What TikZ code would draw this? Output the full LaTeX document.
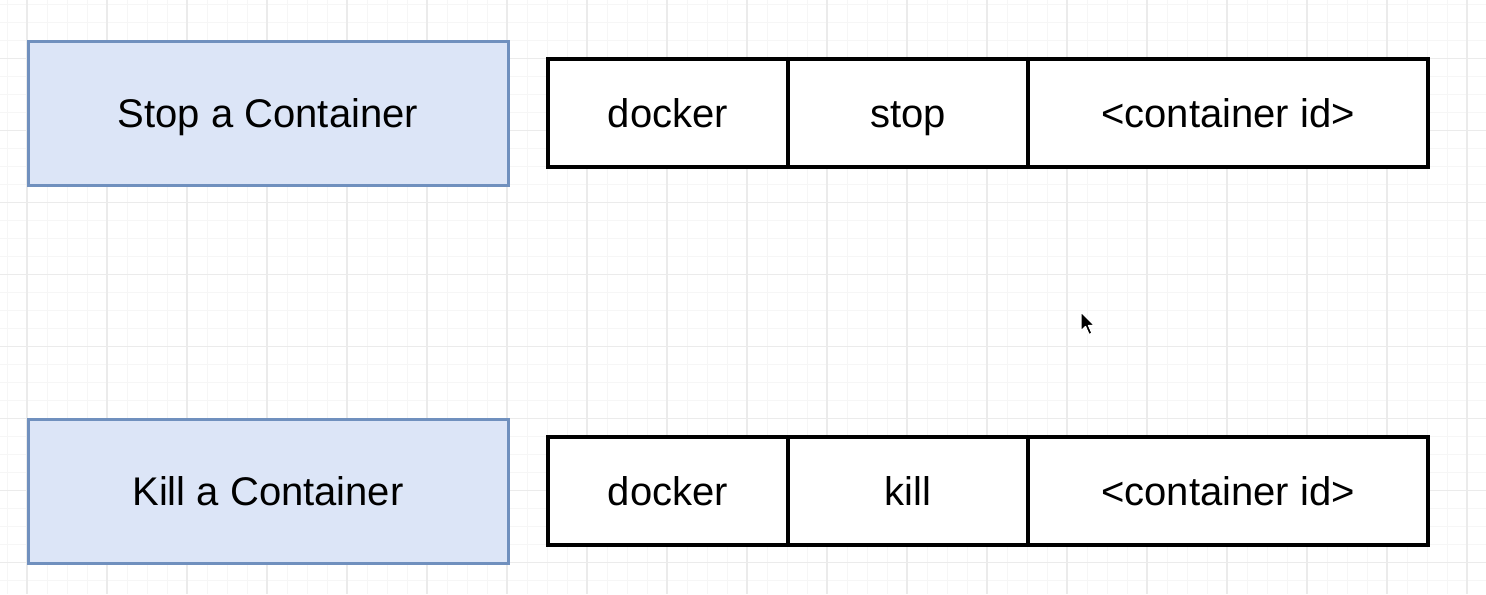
\documentclass[tikz,border=0pt]{standalone}
\usepackage{fontspec}
\setmainfont{Liberation Sans}
\definecolor{gridminor}{HTML}{F6F6F6}
\definecolor{gridmajor}{HTML}{EBEBEB}
\definecolor{bluefill}{HTML}{DCE5F7}
\definecolor{bluedraw}{HTML}{7090BE}
\tikzset{
  minorline/.style={draw=gridminor, line width=0.5pt},
  majorline/.style={draw=gridmajor, line width=0.7pt},
  labeltext/.style={font=\fontsize{20}{24}\selectfont, text height=16pt, text depth=2pt},
  titlebox/.style={labeltext, draw=bluedraw, fill=bluefill, line width=1.5pt, minimum width=240pt, minimum height=72pt, inner sep=0pt},
  cell/.style={labeltext, draw=black, fill=white, line width=2pt, minimum width=120pt, minimum height=54pt, inner sep=0pt},
  widecell/.style={cell, minimum width=200pt},
  cursor/.style={fill=black, draw=white, line width=0.6pt, line join=round}
}
\begin{document}
\begin{tikzpicture}[x=0.5pt, y=-0.5pt]
\fill[white] (0,0) rectangle (1486,594);
\useasboundingbox (0,0) rectangle (1486,594);
% grid
\foreach \i in {0,...,74} \draw[minorline] ({7+20*\i},0) -- ({7+20*\i},594);
\foreach \i in {0,...,32} \draw[minorline] (0,{4.7+18*\i}) -- (1486,{4.7+18*\i});
\foreach \i in {0,...,18} \draw[majorline] ({27+80*\i},0) -- ({27+80*\i},594);
\foreach \i in {0,...,7} \draw[majorline] (0,{58.7+72*\i}) -- (1486,{58.7+72*\i});
% top row
\node[titlebox] (stop) at (268,113) {Stop a Container};
\node[cell] (d1) at (668,113) {docker};
\node[cell] (c1) at (908,113) {stop};
\node[widecell] (i1) at (1228,113) {<container id>};
% bottom row
\node[titlebox] (kill) at (268,491) {Kill a Container};
\node[cell] (d2) at (668,491) {docker};
\node[cell] (c2) at (908,491) {kill};
\node[widecell] (i2) at (1228,491) {<container id>};
% mouse pointer
\coordinate (tip) at (1081,312);
\filldraw[cursor] (tip) -- ++(0,19) -- ++(4.5,-4.5) -- ++(3.5,8) -- ++(3,-1.3) -- ++(-3.5,-7.7) -- ++(6,0) -- cycle;
\end{tikzpicture}
\end{document}
